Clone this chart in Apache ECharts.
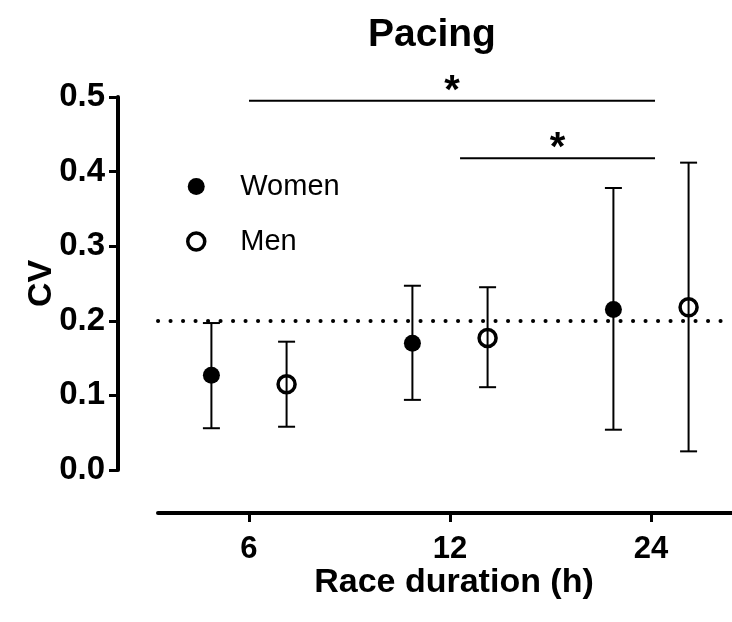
<!DOCTYPE html>
<html>
<head>
<meta charset="utf-8">
<script src="https://cdn.jsdelivr.net/npm/echarts@6/dist/echarts.min.js"></script>
<style>
  html, body { margin: 0; padding: 0; background: #fff; }
  #main { width: 732px; height: 622px; }
</style>
</head>
<body>
<div id="main"></div>
<script>
// race durations (h) shown on x axis
var durations = ['6', '12', '24'];

// coefficient of variation, mean and error bar ends
var womenMean = [0.127, 0.170, 0.215];
var womenLow  = [0.056, 0.094, 0.054];
var womenHigh = [0.197, 0.247, 0.378];

var menMean = [0.115, 0.177, 0.218];
var menLow  = [0.058, 0.111, 0.025];
var menHigh = [0.172, 0.245, 0.412];

// dotted reference line
var refLine = 0.203;

// significance bars (x in category units, y in CV)
var sigFrom = [0, 1.05];
var sigTo   = [2.02, 2.02];
var sigY    = [0.495, 0.418];

var FONT = 'Liberation Sans, Arial, sans-serif';
var OFF = 0.187; // women left, men right of the tick

var chart = echarts.init(document.getElementById('main'));

function pts(vals, shift) {
    return vals.map(function (v, i) { return [i + shift, v]; });
}
function bars(lo, hi, shift) {
    return lo.map(function (v, i) { return [i + shift, v, hi[i]]; });
}

function renderErr(params, api) {
    var x = api.value(0);
    var a = api.coord([x, api.value(1)]);
    var b = api.coord([x, api.value(2)]);
    var hw = 8.5;
    var st = { stroke: '#000', lineWidth: 2 };
    return {
        type: 'group',
        children: [
            { type: 'line', shape: { x1: a[0], y1: a[1], x2: b[0], y2: b[1] }, style: st },
            { type: 'line', shape: { x1: a[0] - hw, y1: a[1], x2: a[0] + hw, y2: a[1] }, style: st },
            { type: 'line', shape: { x1: b[0] - hw, y1: b[1], x2: b[0] + hw, y2: b[1] }, style: st }
        ]
    };
}

function renderSig(params, api) {
    var a = api.coord([api.value(0), api.value(2)]);
    var b = api.coord([api.value(1), api.value(2)]);
    return {
        type: 'group',
        children: [
            { type: 'line', shape: { x1: a[0], y1: a[1], x2: b[0], y2: b[1] },
              style: { stroke: '#000', lineWidth: 2 } },
            { type: 'text', x: (a[0] + b[0]) / 2, y: a[1] + 11,
              style: { text: '*', fill: '#000', font: 'bold 40px ' + FONT,
                       align: 'center', verticalAlign: 'bottom' } }
        ]
    };
}

var option = {
    animation: false,
    backgroundColor: '#fff',
    title: {
        text: 'Pacing',
        left: 363,
        top: 11,
        textStyle: { fontFamily: FONT, fontWeight: 'bold', fontSize: 39, color: '#000' }
    },
    legend: {
        orient: 'vertical',
        left: 181,
        top: 167,
        itemWidth: 78,
        itemHeight: 17,
        itemGap: 26,
        data: [
            { name: 'Women', itemStyle: { color: '#000' } },
            { name: 'Men', itemStyle: { color: 'rgba(255,255,255,0)', borderColor: '#000', borderWidth: 3.5 } }
        ],
        textStyle: { fontFamily: FONT, fontSize: 29, color: '#000' }
    },
    grid: { left: 158, right: 0, top: 97, bottom: 152 },
    xAxis: {
        type: 'value',
        min: -0.4527,
        max: 2.403,
        offset: 43,
        splitLine: { show: false },
        axisLine: { show: true, onZero: false, lineStyle: { color: '#000', width: 4 } },
        axisTick: { show: true, length: 9, customValues: [0, 1, 2],
                    lineStyle: { color: '#000', width: 3 } },
        axisLabel: {
            customValues: [0, 1, 2],
            margin: 21,
            formatter: function (v) { return durations[Math.round(v)]; },
            fontFamily: FONT, fontWeight: 'bold', fontSize: 31, color: '#000'
        },
        name: 'Race duration (h)',
        nameLocation: 'middle',
        nameGap: 53,
        nameMoveOverlap: false,
        nameTextStyle: { fontFamily: FONT, fontWeight: 'bold', fontSize: 34, color: '#000',
                         padding: [0, 0, 0, 18] }
    },
    yAxis: {
        type: 'value',
        min: 0,
        max: 0.5,
        interval: 0.1,
        offset: 40,
        splitLine: { show: false },
        axisLine: { show: true, onZero: false, lineStyle: { color: '#000', width: 4 } },
        axisTick: { show: true, length: 9, lineStyle: { color: '#000', width: 3 } },
        axisLabel: {
            margin: 13,
            formatter: function (v) { return v.toFixed(1); },
            fontFamily: FONT, fontWeight: 'bold', fontSize: 33, color: '#000'
        },
        name: 'CV',
        nameLocation: 'middle',
        nameRotate: 90,
        nameGap: 59,
        nameMoveOverlap: false,
        nameTextStyle: { fontFamily: FONT, fontWeight: 'bold', fontSize: 34, color: '#000' }
    },
    series: [
        {
            name: 'womenErr', type: 'custom', renderItem: renderErr,
            data: bars(womenLow, womenHigh, -OFF), encode: { x: 0, y: [1, 2] }, z: 2
        },
        {
            name: 'menErr', type: 'custom', renderItem: renderErr,
            data: bars(menLow, menHigh, OFF), encode: { x: 0, y: [1, 2] }, z: 2
        },
        {
            name: 'Women', type: 'scatter', symbol: 'circle', symbolSize: 17,
            itemStyle: { color: '#000', opacity: 1 },
            data: pts(womenMean, -OFF), z: 3,
            markLine: {
                silent: true, symbol: 'none', label: { show: false },
                lineStyle: { color: '#000', width: 4, type: [0.1, 12.4], cap: 'round' },
                data: [{ yAxis: refLine }]
            }
        },
        {
            name: 'Men', type: 'scatter', symbol: 'circle', symbolSize: 17,
            itemStyle: { color: 'rgba(255,255,255,0)', borderColor: '#000', borderWidth: 3.5, opacity: 1 },
            data: pts(menMean, OFF), z: 3
        },
        {
            name: 'sig', type: 'custom', renderItem: renderSig,
            data: sigFrom.map(function (f, i) { return [f, sigTo[i], sigY[i]]; }),
            encode: { x: [0, 1], y: 2 }, z: 2
        }
    ]
};

chart.setOption(option);
</script>
</body>
</html>
